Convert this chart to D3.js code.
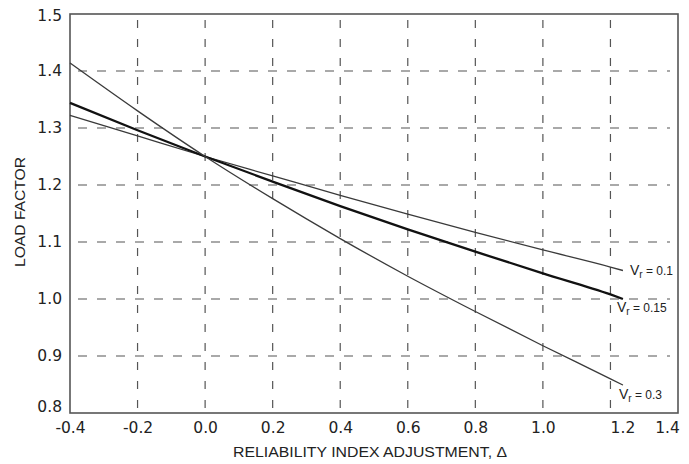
<!DOCTYPE html>
<html><head><meta charset="utf-8">
<script src="https://cdn.jsdelivr.net/npm/d3@7"></script>
<style>
body{margin:0;background:#fff;}
svg{display:block;}
</style></head>
<body>
<svg id="c" width="689" height="464"></svg>
<script>
const xValues = [-0.4, -0.2, 0.0, 0.2, 0.4, 0.6, 0.8, 1.0, 1.2, 1.237];
const seriesV01  = [1.322, 1.286, 1.25, 1.216, 1.182, 1.149, 1.117, 1.086, 1.056, 1.050];
const seriesV015 = [1.344, 1.296, 1.25, 1.206, 1.163, 1.122, 1.083, 1.045, 1.008, 1.000];
const seriesV03  = [1.414, 1.330, 1.25, 1.176, 1.106, 1.040, 0.978, 0.918, 0.860, 0.849];
const seriesNames = ["0.1", "0.15", "0.3"];
const xTicks = [-0.4, -0.2, 0.0, 0.2, 0.4, 0.6, 0.8, 1.0, 1.2, 1.4];
const yTicks = [0.8, 0.9, 1.0, 1.1, 1.2, 1.3, 1.4, 1.5];
const xTitle = "RELIABILITY INDEX ADJUSTMENT, \u0394";
const yTitle = "LOAD FACTOR";

const svg = d3.select("#c");
const L = 70, R = 678, T = 14, B = 413;
const x = d3.scaleLinear().domain([-0.4, 1.4]).range([L, R]);
const y = d3.scaleLinear().domain([0.8, 1.5]).range([B, T]);
const fmt = d => d3.format(".1f")(d).replace("\u2212", "-");

const grid = svg.append("g");
grid.selectAll("line.v").data(xTicks.slice(1, -1)).join("line")
  .attr("x1", d => x(d)).attr("x2", d => x(d)).attr("y1", T + 6).attr("y2", B)
  .attr("stroke", "#555").attr("stroke-width", 1.2).attr("stroke-dasharray", "8,11");
grid.selectAll("line.h").data(yTicks.slice(1, -1)).join("line")
  .attr("x1", L + 8).attr("x2", R - 8).attr("y1", d => y(d)).attr("y2", d => y(d))
  .attr("stroke", "#555").attr("stroke-width", 1.2).attr("stroke-dasharray", "9,10");

svg.append("rect").attr("x", L).attr("y", T).attr("width", R - L).attr("height", B - T)
  .attr("fill", "none").attr("stroke", "#555").attr("stroke-width", 1.6);

const xAxis = d3.axisBottom(x).tickValues(xTicks).tickSize(0).tickPadding(9).tickFormat(fmt);
const gx = svg.append("g").attr("transform", `translate(0,${B})`).call(xAxis);
gx.select(".domain").remove();
gx.selectAll("text").attr("font-family", "DejaVu Sans, sans-serif").attr("font-size", 15.5).attr("fill", "#222")
  .attr("dx", d => d === 1.2 ? 12 : (d === 1.4 ? -11 : 0));

const yAxis = d3.axisLeft(y).tickValues(yTicks).tickSize(0).tickPadding(8).tickFormat(fmt);
const gy = svg.append("g").attr("transform", `translate(${L},0)`).call(yAxis);
gy.select(".domain").remove();
gy.selectAll("text").attr("font-family", "DejaVu Sans, sans-serif").attr("font-size", 15.5).attr("fill", "#222")
  .attr("dy", d => d === 0.8 ? "-0.1em" : (d === 1.5 ? "0.42em" : "0.32em"));

const series = [
  {name: seriesNames[0], vals: seriesV01, w: 1.3, c: "#3a3a3a", dx: 7, dy: 4},
  {name: seriesNames[1], vals: seriesV015, w: 2.3, c: "#111", dx: -6, dy: 13},
  {name: seriesNames[2], vals: seriesV03, w: 1.3, c: "#3a3a3a", dx: -4, dy: 14}
];
const line = d3.line().x((d, i) => x(xValues[i])).y(d => y(d)).curve(d3.curveMonotoneX);
series.forEach(s => {
  svg.append("path").datum(s.vals).attr("d", line)
    .attr("fill", "none").attr("stroke", s.c).attr("stroke-width", s.w);
  const n = s.vals.length - 1;
  const t = svg.append("text")
    .attr("x", x(xValues[n]) + s.dx).attr("y", y(s.vals[n]) + s.dy)
    .attr("font-family", "Liberation Sans, Arial, sans-serif").attr("font-size", 12).attr("fill", "#222");
  t.append("tspan").text("V").attr("font-size", 14);
  t.append("tspan").text("r").attr("font-size", 10).attr("dy", 3);
  t.append("tspan").text(" = " + s.name).attr("dy", -3);
});

svg.append("text").attr("x", 370).attr("y", 457).attr("text-anchor", "middle")
  .attr("font-family", "Liberation Sans, Arial, sans-serif").attr("font-size", 14)
  .attr("textLength", 274).attr("lengthAdjust", "spacingAndGlyphs")
  .attr("fill", "#222").text(xTitle);
svg.append("text").attr("transform", "translate(25,212) rotate(-90)").attr("text-anchor", "middle")
  .attr("font-family", "Liberation Sans, Arial, sans-serif").attr("font-size", 14)
  .attr("textLength", 110).attr("lengthAdjust", "spacingAndGlyphs")
  .attr("fill", "#222").text(yTitle);
</script>
</body></html>
